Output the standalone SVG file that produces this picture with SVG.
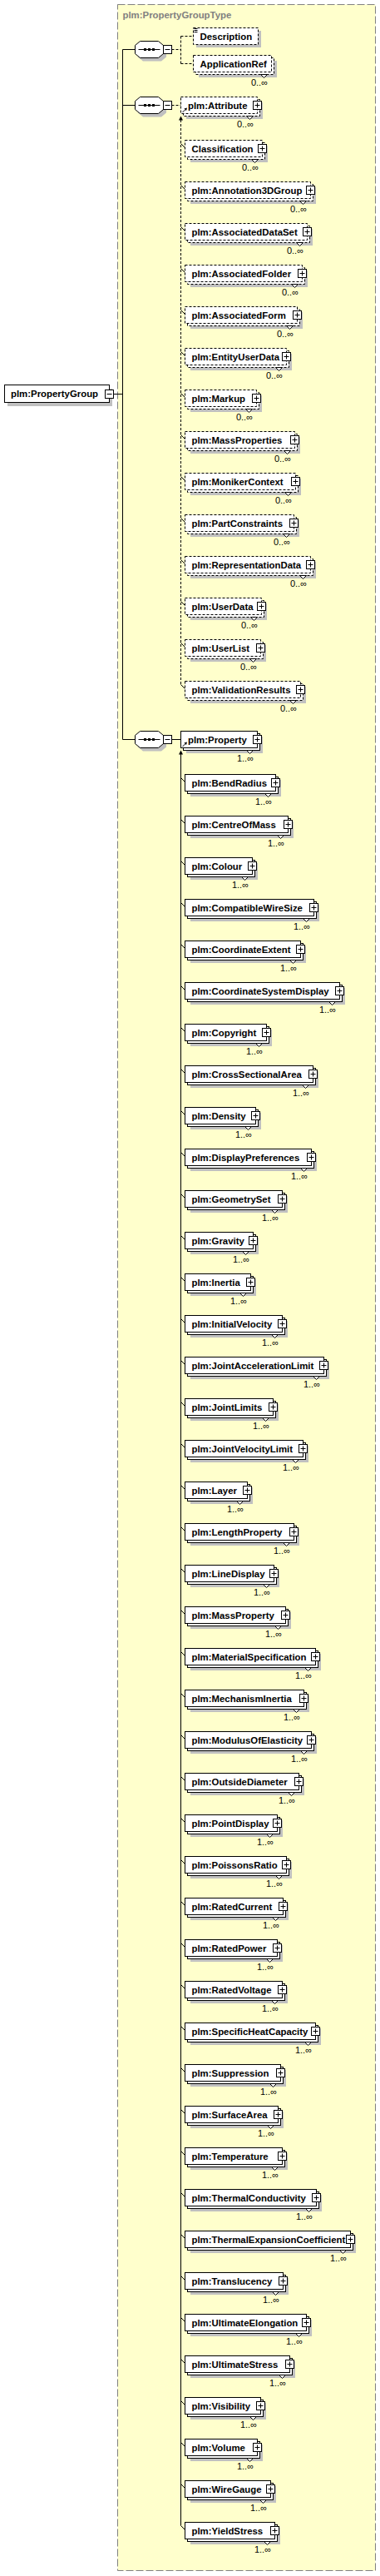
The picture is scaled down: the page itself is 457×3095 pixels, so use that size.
<svg xmlns="http://www.w3.org/2000/svg" xmlns:xlink="http://www.w3.org/1999/xlink" width="457" height="3095" viewBox="0 0 457 3095">
<style>
.s{fill:#c0c0c0}
.b{fill:#fff;stroke:#000;stroke-width:1}
.d{fill:#fff;stroke:#000;stroke-width:1;stroke-dasharray:3,2}
.l{font-family:"Liberation Sans",Arial,sans-serif;font-weight:bold;font-size:11.4px;fill:#000}
.o{font-family:"Liberation Sans",Arial,sans-serif;font-size:11px;fill:#000;text-anchor:end}
.c{fill:none;stroke:#000;stroke-width:1}
.cd{fill:none;stroke:#000;stroke-width:1;stroke-dasharray:3,2}
</style>
<defs>
<polygon id="n" points="-4,0 4,0 0,4" fill="#fff" stroke="#000"/>
<g id="p"><rect x="-5" y="-5" width="10" height="10" fill="#fff" stroke="#000"/><path d="M-3 0H3M0-3V3" stroke="#000"/></g>
<g id="r"><path d="M2 18.5L5.2 15.3" stroke="#000"/><polygon points="7.5,13 3.9,14 6.5,16.6" fill="#000"/></g>
<g id="q"><polygon points="9.5,4 31.5,4 37.5,9 37.5,19 31.5,24 9.5,24 3.5,19 3.5,9" fill="#c0c0c0"/><polygon points="6,0 28,0 34,5 34,15 28,20 6,20 0,15 0,5" fill="#fff" stroke="#000"/><path d="M4 10H30" stroke="#000"/><rect x="10.5" y="8.5" width="3" height="3"/><rect x="15.5" y="8.5" width="3" height="3"/><rect x="20.5" y="8.5" width="3" height="3"/><rect x="34" y="5" width="10" height="10" fill="#fff" stroke="#000"/><path d="M36 10H42" stroke="#000"/></g>
</defs>
<rect x="0" y="0" width="457" height="3095" fill="#fff"/>
<g id="PropertyGroupType">
<rect x="141.5" y="5.5" width="310" height="3083" fill="#FFFFCC" stroke="#808080" stroke-dasharray="9,3"/>
<text class="l" x="147.5" y="22" style="fill:#808080">plm:PropertyGroupType</text>
</g>
<g id="connectors">
<path class="c" d="M136.5 473.5H147.5M147.5 59.5V888.5M147.5 59.5H162.5M147.5 126.5H162.5M147.5 888.5H162.5M206.5 888.5H217.5"/>
<path class="cd" d="M206.5 59.5H217.5M217.5 43.5V76.5M217.5 43.5H232.5M217.5 76.5H232.5M206.5 126.5H217.5"/>
<path class="cd" d="M217.5 144V822.5"/>
<polygon points="217.5,139.5 215,144.5 220,144.5" fill="#000"/>
<path class="c" d="M217.5 906V3034.5"/>
<polygon points="217.5,901.5 215,906.5 220,906.5" fill="#000"/>
<path class="c" d="M217.5 172.5L222.5 177.5M217.5 222.5L222.5 227.5M217.5 272.5L222.5 277.5M217.5 322.5L222.5 327.5M217.5 372.5L222.5 377.5M217.5 422.5L222.5 427.5M217.5 472.5L222.5 477.5M217.5 522.5L222.5 527.5M217.5 572.5L222.5 577.5M217.5 622.5L222.5 627.5M217.5 672.5L222.5 677.5M217.5 722.5L222.5 727.5M217.5 772.5L222.5 777.5M217.5 822.5L222.5 827.5"/>
<path class="c" d="M217.5 934.5l5 5m-5 45l5 5m-5 45l5 5m-5 45l5 5m-5 45l5 5m-5 45l5 5m-5 45l5 5m-5 45l5 5m-5 45l5 5m-5 45l5 5m-5 45l5 5m-5 45l5 5m-5 45l5 5m-5 45l5 5m-5 45l5 5m-5 45l5 5m-5 45l5 5m-5 45l5 5m-5 45l5 5m-5 45l5 5m-5 45l5 5m-5 45l5 5m-5 45l5 5m-5 45l5 5m-5 45l5 5m-5 45l5 5m-5 45l5 5m-5 45l5 5m-5 45l5 5m-5 45l5 5m-5 45l5 5m-5 45l5 5m-5 45l5 5m-5 45l5 5m-5 45l5 5m-5 45l5 5m-5 45l5 5m-5 45l5 5m-5 45l5 5m-5 45l5 5m-5 45l5 5m-5 45l5 5m-5 45l5 5"/>
</g>
<g id="PropertyGroup">
<rect class="s" x="9" y="467" width="126" height="21"/>
<rect class="b" x="5.5" y="462.5" width="126" height="21"/>
<text class="l" x="13" y="477">plm:PropertyGroup</text>
<rect class="b" x="126.5" y="468.5" width="10" height="10"/>
<path d="M128.5 473.5H134.5" stroke="#000"/>
</g>
<g id="seq1"><use href="#q" x="162.5" y="49.5"/></g>
<g id="seq2"><use href="#q" x="162.5" y="116.5"/></g>
<g id="seq3"><use href="#q" x="162.5" y="878.5"/></g>
<g id="Description" transform="translate(232.5,33.5)"><rect class="s" x="3.5" y="3.5" width="78" height="20"/><rect class="d" width="78" height="20"/><path d="M1 1H5M1 3H5M1 5H5" stroke="#000"/><text class="l" x="8" y="14">Description</text></g>
<g id="ApplicationRef" transform="translate(232.5,66.5)"><rect class="s" x="6.5" y="6.5" width="94" height="20"/><rect class="d" x="3" y="3" width="94" height="20"/><rect class="d" width="94" height="20"/><use href="#n" x="85" y="23"/><text class="l" x="8" y="14">ApplicationRef</text><text class="o" x="89.5" y="36.5">0..∞</text></g>
<g id="Attribute" transform="translate(217.5,116.5)"><rect class="s" x="6.5" y="6.5" width="92" height="20"/><rect class="d" x="3" y="3" width="92" height="20"/><rect class="d" width="92" height="20"/><use href="#n" x="83" y="23"/><use href="#p" x="92" y="10"/><use href="#r"/><text class="l" x="8.5" y="14">plm:Attribute</text><text class="o" x="87.5" y="36.5">0..∞</text></g>
<g id="Classification" transform="translate(222.5,168.5)"><rect class="s" x="6.5" y="6.5" width="93" height="20"/><rect class="d" x="3" y="3" width="93" height="20"/><rect class="d" width="93" height="20"/><use href="#n" x="84" y="23"/><use href="#p" x="93" y="10"/><text class="l" x="8" y="14">Classification</text><text class="o" x="88.5" y="36.5">0..∞</text></g>
<g id="Annotation3DGroup" transform="translate(222.5,218.5)"><rect class="s" x="6.5" y="6.5" width="151" height="20"/><rect class="d" x="3" y="3" width="151" height="20"/><rect class="d" width="151" height="20"/><use href="#n" x="142" y="23"/><use href="#p" x="151" y="10"/><text class="l" x="8" y="14">plm:Annotation3DGroup</text><text class="o" x="146.5" y="36.5">0..∞</text></g>
<g id="AssociatedDataSet" transform="translate(222.5,268.5)"><rect class="s" x="6.5" y="6.5" width="147" height="20"/><rect class="d" x="3" y="3" width="147" height="20"/><rect class="d" width="147" height="20"/><use href="#n" x="138" y="23"/><use href="#p" x="147" y="10"/><text class="l" x="8" y="14">plm:AssociatedDataSet</text><text class="o" x="142.5" y="36.5">0..∞</text></g>
<g id="AssociatedFolder" transform="translate(222.5,318.5)"><rect class="s" x="6.5" y="6.5" width="141" height="20"/><rect class="d" x="3" y="3" width="141" height="20"/><rect class="d" width="141" height="20"/><use href="#n" x="132" y="23"/><use href="#p" x="141" y="10"/><text class="l" x="8" y="14">plm:AssociatedFolder</text><text class="o" x="136.5" y="36.5">0..∞</text></g>
<g id="AssociatedForm" transform="translate(222.5,368.5)"><rect class="s" x="6.5" y="6.5" width="135" height="20"/><rect class="d" x="3" y="3" width="135" height="20"/><rect class="d" width="135" height="20"/><use href="#n" x="126" y="23"/><use href="#p" x="135" y="10"/><text class="l" x="8" y="14">plm:AssociatedForm</text><text class="o" x="130.5" y="36.5">0..∞</text></g>
<g id="EntityUserData" transform="translate(222.5,418.5)"><rect class="s" x="6.5" y="6.5" width="122" height="20"/><rect class="d" x="3" y="3" width="122" height="20"/><rect class="d" width="122" height="20"/><use href="#n" x="113" y="23"/><use href="#p" x="122" y="10"/><text class="l" x="8" y="14">plm:EntityUserData</text><text class="o" x="117.5" y="36.5">0..∞</text></g>
<g id="Markup" transform="translate(222.5,468.5)"><rect class="s" x="6.5" y="6.5" width="86" height="20"/><rect class="d" x="3" y="3" width="86" height="20"/><rect class="d" width="86" height="20"/><use href="#n" x="77" y="23"/><use href="#p" x="86" y="10"/><text class="l" x="8" y="14">plm:Markup</text><text class="o" x="81.5" y="36.5">0..∞</text></g>
<g id="MassProperties" transform="translate(222.5,518.5)"><rect class="s" x="6.5" y="6.5" width="132" height="20"/><rect class="d" x="3" y="3" width="132" height="20"/><rect class="d" width="132" height="20"/><use href="#n" x="123" y="23"/><use href="#p" x="132" y="10"/><text class="l" x="8" y="14">plm:MassProperties</text><text class="o" x="127.5" y="36.5">0..∞</text></g>
<g id="MonikerContext" transform="translate(222.5,568.5)"><rect class="s" x="6.5" y="6.5" width="133" height="20"/><rect class="d" x="3" y="3" width="133" height="20"/><rect class="d" width="133" height="20"/><use href="#n" x="124" y="23"/><use href="#p" x="133" y="10"/><text class="l" x="8" y="14">plm:MonikerContext</text><text class="o" x="128.5" y="36.5">0..∞</text></g>
<g id="PartConstraints" transform="translate(222.5,618.5)"><rect class="s" x="6.5" y="6.5" width="131" height="20"/><rect class="d" x="3" y="3" width="131" height="20"/><rect class="d" width="131" height="20"/><use href="#n" x="122" y="23"/><use href="#p" x="131" y="10"/><text class="l" x="8" y="14">plm:PartConstraints</text><text class="o" x="126.5" y="36.5">0..∞</text></g>
<g id="RepresentationData" transform="translate(222.5,668.5)"><rect class="s" x="6.5" y="6.5" width="151" height="20"/><rect class="d" x="3" y="3" width="151" height="20"/><rect class="d" width="151" height="20"/><use href="#n" x="142" y="23"/><use href="#p" x="151" y="10"/><text class="l" x="8" y="14">plm:RepresentationData</text><text class="o" x="146.5" y="36.5">0..∞</text></g>
<g id="UserData" transform="translate(222.5,718.5)"><rect class="s" x="6.5" y="6.5" width="92" height="20"/><rect class="d" x="3" y="3" width="92" height="20"/><rect class="d" width="92" height="20"/><use href="#n" x="83" y="23"/><use href="#p" x="92" y="10"/><text class="l" x="8" y="14">plm:UserData</text><text class="o" x="87.5" y="36.5">0..∞</text></g>
<g id="UserList" transform="translate(222.5,768.5)"><rect class="s" x="6.5" y="6.5" width="91" height="20"/><rect class="d" x="3" y="3" width="91" height="20"/><rect class="d" width="91" height="20"/><use href="#n" x="82" y="23"/><use href="#p" x="91" y="10"/><text class="l" x="8" y="14">plm:UserList</text><text class="o" x="86.5" y="36.5">0..∞</text></g>
<g id="ValidationResults" transform="translate(222.5,818.5)"><rect class="s" x="6.5" y="6.5" width="139" height="20"/><rect class="d" x="3" y="3" width="139" height="20"/><rect class="d" width="139" height="20"/><use href="#n" x="130" y="23"/><use href="#p" x="139" y="10"/><text class="l" x="8" y="14">plm:ValidationResults</text><text class="o" x="134.5" y="36.5">0..∞</text></g>
<g id="Property" transform="translate(217.5,878.5)"><rect class="s" x="6.5" y="6.5" width="92" height="20"/><rect class="b" x="3" y="3" width="92" height="20"/><rect class="b" width="92" height="20"/><use href="#n" x="83" y="23"/><use href="#p" x="92" y="10"/><use href="#r"/><text class="l" x="8.5" y="14">plm:Property</text><text class="o" x="87.5" y="36.5">1..∞</text></g>
<g id="BendRadius" transform="translate(222.5,930.5)"><rect class="s" x="6.5" y="6.5" width="109" height="20"/><rect class="b" x="3" y="3" width="109" height="20"/><rect class="b" width="109" height="20"/><use href="#n" x="100" y="23"/><use href="#p" x="109" y="10"/><text class="l" x="8" y="14">plm:BendRadius</text><text class="o" x="104.5" y="36.5">1..∞</text></g>
<g id="CentreOfMass" transform="translate(222.5,980.5)"><rect class="s" x="6.5" y="6.5" width="124" height="20"/><rect class="b" x="3" y="3" width="124" height="20"/><rect class="b" width="124" height="20"/><use href="#n" x="115" y="23"/><use href="#p" x="124" y="10"/><text class="l" x="8" y="14">plm:CentreOfMass</text><text class="o" x="119.5" y="36.5">1..∞</text></g>
<g id="Colour" transform="translate(222.5,1030.5)"><rect class="s" x="6.5" y="6.5" width="81" height="20"/><rect class="b" x="3" y="3" width="81" height="20"/><rect class="b" width="81" height="20"/><use href="#n" x="72" y="23"/><use href="#p" x="81" y="10"/><text class="l" x="8" y="14">plm:Colour</text><text class="o" x="76.5" y="36.5">1..∞</text></g>
<g id="CompatibleWireSize" transform="translate(222.5,1080.5)"><rect class="s" x="6.5" y="6.5" width="155" height="20"/><rect class="b" x="3" y="3" width="155" height="20"/><rect class="b" width="155" height="20"/><use href="#n" x="146" y="23"/><use href="#p" x="155" y="10"/><text class="l" x="8" y="14">plm:CompatibleWireSize</text><text class="o" x="150.5" y="36.5">1..∞</text></g>
<g id="CoordinateExtent" transform="translate(222.5,1130.5)"><rect class="s" x="6.5" y="6.5" width="139" height="20"/><rect class="b" x="3" y="3" width="139" height="20"/><rect class="b" width="139" height="20"/><use href="#n" x="130" y="23"/><use href="#p" x="139" y="10"/><text class="l" x="8" y="14">plm:CoordinateExtent</text><text class="o" x="134.5" y="36.5">1..∞</text></g>
<g id="CoordinateSystemDisplay" transform="translate(222.5,1180.5)"><rect class="s" x="6.5" y="6.5" width="186" height="20"/><rect class="b" x="3" y="3" width="186" height="20"/><rect class="b" width="186" height="20"/><use href="#n" x="177" y="23"/><use href="#p" x="186" y="10"/><text class="l" x="8" y="14">plm:CoordinateSystemDisplay</text><text class="o" x="181.5" y="36.5">1..∞</text></g>
<g id="Copyright" transform="translate(222.5,1230.5)"><rect class="s" x="6.5" y="6.5" width="98" height="20"/><rect class="b" x="3" y="3" width="98" height="20"/><rect class="b" width="98" height="20"/><use href="#n" x="89" y="23"/><use href="#p" x="98" y="10"/><text class="l" x="8" y="14">plm:Copyright</text><text class="o" x="93.5" y="36.5">1..∞</text></g>
<g id="CrossSectionalArea" transform="translate(222.5,1280.5)"><rect class="s" x="6.5" y="6.5" width="154" height="20"/><rect class="b" x="3" y="3" width="154" height="20"/><rect class="b" width="154" height="20"/><use href="#n" x="145" y="23"/><use href="#p" x="154" y="10"/><text class="l" x="8" y="14">plm:CrossSectionalArea</text><text class="o" x="149.5" y="36.5">1..∞</text></g>
<g id="Density" transform="translate(222.5,1330.5)"><rect class="s" x="6.5" y="6.5" width="85" height="20"/><rect class="b" x="3" y="3" width="85" height="20"/><rect class="b" width="85" height="20"/><use href="#n" x="76" y="23"/><use href="#p" x="85" y="10"/><text class="l" x="8" y="14">plm:Density</text><text class="o" x="80.5" y="36.5">1..∞</text></g>
<g id="DisplayPreferences" transform="translate(222.5,1380.5)"><rect class="s" x="6.5" y="6.5" width="152" height="20"/><rect class="b" x="3" y="3" width="152" height="20"/><rect class="b" width="152" height="20"/><use href="#n" x="143" y="23"/><use href="#p" x="152" y="10"/><text class="l" x="8" y="14">plm:DisplayPreferences</text><text class="o" x="147.5" y="36.5">1..∞</text></g>
<g id="GeometrySet" transform="translate(222.5,1430.5)"><rect class="s" x="6.5" y="6.5" width="117" height="20"/><rect class="b" x="3" y="3" width="117" height="20"/><rect class="b" width="117" height="20"/><use href="#n" x="108" y="23"/><use href="#p" x="117" y="10"/><text class="l" x="8" y="14">plm:GeometrySet</text><text class="o" x="112.5" y="36.5">1..∞</text></g>
<g id="Gravity" transform="translate(222.5,1480.5)"><rect class="s" x="6.5" y="6.5" width="82" height="20"/><rect class="b" x="3" y="3" width="82" height="20"/><rect class="b" width="82" height="20"/><use href="#n" x="73" y="23"/><use href="#p" x="82" y="10"/><text class="l" x="8" y="14">plm:Gravity</text><text class="o" x="77.5" y="36.5">1..∞</text></g>
<g id="Inertia" transform="translate(222.5,1530.5)"><rect class="s" x="6.5" y="6.5" width="79" height="20"/><rect class="b" x="3" y="3" width="79" height="20"/><rect class="b" width="79" height="20"/><use href="#n" x="70" y="23"/><use href="#p" x="79" y="10"/><text class="l" x="8" y="14">plm:Inertia</text><text class="o" x="74.5" y="36.5">1..∞</text></g>
<g id="InitialVelocity" transform="translate(222.5,1580.5)"><rect class="s" x="6.5" y="6.5" width="117" height="20"/><rect class="b" x="3" y="3" width="117" height="20"/><rect class="b" width="117" height="20"/><use href="#n" x="108" y="23"/><use href="#p" x="117" y="10"/><text class="l" x="8" y="14">plm:InitialVelocity</text><text class="o" x="112.5" y="36.5">1..∞</text></g>
<g id="JointAccelerationLimit" transform="translate(222.5,1630.5)"><rect class="s" x="6.5" y="6.5" width="167" height="20"/><rect class="b" x="3" y="3" width="167" height="20"/><rect class="b" width="167" height="20"/><use href="#n" x="158" y="23"/><use href="#p" x="167" y="10"/><text class="l" x="8" y="14">plm:JointAccelerationLimit</text><text class="o" x="162.5" y="36.5">1..∞</text></g>
<g id="JointLimits" transform="translate(222.5,1680.5)"><rect class="s" x="6.5" y="6.5" width="106" height="20"/><rect class="b" x="3" y="3" width="106" height="20"/><rect class="b" width="106" height="20"/><use href="#n" x="97" y="23"/><use href="#p" x="106" y="10"/><text class="l" x="8" y="14">plm:JointLimits</text><text class="o" x="101.5" y="36.5">1..∞</text></g>
<g id="JointVelocityLimit" transform="translate(222.5,1730.5)"><rect class="s" x="6.5" y="6.5" width="142" height="20"/><rect class="b" x="3" y="3" width="142" height="20"/><rect class="b" width="142" height="20"/><use href="#n" x="133" y="23"/><use href="#p" x="142" y="10"/><text class="l" x="8" y="14">plm:JointVelocityLimit</text><text class="o" x="137.5" y="36.5">1..∞</text></g>
<g id="Layer" transform="translate(222.5,1780.5)"><rect class="s" x="6.5" y="6.5" width="75" height="20"/><rect class="b" x="3" y="3" width="75" height="20"/><rect class="b" width="75" height="20"/><use href="#n" x="66" y="23"/><use href="#p" x="75" y="10"/><text class="l" x="8" y="14">plm:Layer</text><text class="o" x="70.5" y="36.5">1..∞</text></g>
<g id="LengthProperty" transform="translate(222.5,1830.5)"><rect class="s" x="6.5" y="6.5" width="131" height="20"/><rect class="b" x="3" y="3" width="131" height="20"/><rect class="b" width="131" height="20"/><use href="#n" x="122" y="23"/><use href="#p" x="131" y="10"/><text class="l" x="8" y="14">plm:LengthProperty</text><text class="o" x="126.5" y="36.5">1..∞</text></g>
<g id="LineDisplay" transform="translate(222.5,1880.5)"><rect class="s" x="6.5" y="6.5" width="107" height="20"/><rect class="b" x="3" y="3" width="107" height="20"/><rect class="b" width="107" height="20"/><use href="#n" x="98" y="23"/><use href="#p" x="107" y="10"/><text class="l" x="8" y="14">plm:LineDisplay</text><text class="o" x="102.5" y="36.5">1..∞</text></g>
<g id="MassProperty" transform="translate(222.5,1930.5)"><rect class="s" x="6.5" y="6.5" width="121" height="20"/><rect class="b" x="3" y="3" width="121" height="20"/><rect class="b" width="121" height="20"/><use href="#n" x="112" y="23"/><use href="#p" x="121" y="10"/><text class="l" x="8" y="14">plm:MassProperty</text><text class="o" x="116.5" y="36.5">1..∞</text></g>
<g id="MaterialSpecification" transform="translate(222.5,1980.5)"><rect class="s" x="6.5" y="6.5" width="157" height="20"/><rect class="b" x="3" y="3" width="157" height="20"/><rect class="b" width="157" height="20"/><use href="#n" x="148" y="23"/><use href="#p" x="157" y="10"/><text class="l" x="8" y="14">plm:MaterialSpecification</text><text class="o" x="152.5" y="36.5">1..∞</text></g>
<g id="MechanismInertia" transform="translate(222.5,2030.5)"><rect class="s" x="6.5" y="6.5" width="143" height="20"/><rect class="b" x="3" y="3" width="143" height="20"/><rect class="b" width="143" height="20"/><use href="#n" x="134" y="23"/><use href="#p" x="143" y="10"/><text class="l" x="8" y="14">plm:MechanismInertia</text><text class="o" x="138.5" y="36.5">1..∞</text></g>
<g id="ModulusOfElasticity" transform="translate(222.5,2080.5)"><rect class="s" x="6.5" y="6.5" width="152" height="20"/><rect class="b" x="3" y="3" width="152" height="20"/><rect class="b" width="152" height="20"/><use href="#n" x="143" y="23"/><use href="#p" x="152" y="10"/><text class="l" x="8" y="14">plm:ModulusOfElasticity</text><text class="o" x="147.5" y="36.5">1..∞</text></g>
<g id="OutsideDiameter" transform="translate(222.5,2130.5)"><rect class="s" x="6.5" y="6.5" width="137" height="20"/><rect class="b" x="3" y="3" width="137" height="20"/><rect class="b" width="137" height="20"/><use href="#n" x="128" y="23"/><use href="#p" x="137" y="10"/><text class="l" x="8" y="14">plm:OutsideDiameter</text><text class="o" x="132.5" y="36.5">1..∞</text></g>
<g id="PointDisplay" transform="translate(222.5,2180.5)"><rect class="s" x="6.5" y="6.5" width="111" height="20"/><rect class="b" x="3" y="3" width="111" height="20"/><rect class="b" width="111" height="20"/><use href="#n" x="102" y="23"/><use href="#p" x="111" y="10"/><text class="l" x="8" y="14">plm:PointDisplay</text><text class="o" x="106.5" y="36.5">1..∞</text></g>
<g id="PoissonsRatio" transform="translate(222.5,2230.5)"><rect class="s" x="6.5" y="6.5" width="122" height="20"/><rect class="b" x="3" y="3" width="122" height="20"/><rect class="b" width="122" height="20"/><use href="#n" x="113" y="23"/><use href="#p" x="122" y="10"/><text class="l" x="8" y="14">plm:PoissonsRatio</text><text class="o" x="117.5" y="36.5">1..∞</text></g>
<g id="RatedCurrent" transform="translate(222.5,2280.5)"><rect class="s" x="6.5" y="6.5" width="118" height="20"/><rect class="b" x="3" y="3" width="118" height="20"/><rect class="b" width="118" height="20"/><use href="#n" x="109" y="23"/><use href="#p" x="118" y="10"/><text class="l" x="8" y="14">plm:RatedCurrent</text><text class="o" x="113.5" y="36.5">1..∞</text></g>
<g id="RatedPower" transform="translate(222.5,2330.5)"><rect class="s" x="6.5" y="6.5" width="111" height="20"/><rect class="b" x="3" y="3" width="111" height="20"/><rect class="b" width="111" height="20"/><use href="#n" x="102" y="23"/><use href="#p" x="111" y="10"/><text class="l" x="8" y="14">plm:RatedPower</text><text class="o" x="106.5" y="36.5">1..∞</text></g>
<g id="RatedVoltage" transform="translate(222.5,2380.5)"><rect class="s" x="6.5" y="6.5" width="117" height="20"/><rect class="b" x="3" y="3" width="117" height="20"/><rect class="b" width="117" height="20"/><use href="#n" x="108" y="23"/><use href="#p" x="117" y="10"/><text class="l" x="8" y="14">plm:RatedVoltage</text><text class="o" x="112.5" y="36.5">1..∞</text></g>
<g id="SpecificHeatCapacity" transform="translate(222.5,2430.5)"><rect class="s" x="6.5" y="6.5" width="157" height="20"/><rect class="b" x="3" y="3" width="157" height="20"/><rect class="b" width="157" height="20"/><use href="#n" x="148" y="23"/><use href="#p" x="157" y="10"/><text class="l" x="8" y="14">plm:SpecificHeatCapacity</text><text class="o" x="152.5" y="36.5">1..∞</text></g>
<g id="Suppression" transform="translate(222.5,2480.5)"><rect class="s" x="6.5" y="6.5" width="115" height="20"/><rect class="b" x="3" y="3" width="115" height="20"/><rect class="b" width="115" height="20"/><use href="#n" x="106" y="23"/><use href="#p" x="115" y="10"/><text class="l" x="8" y="14">plm:Suppression</text><text class="o" x="110.5" y="36.5">1..∞</text></g>
<g id="SurfaceArea" transform="translate(222.5,2530.5)"><rect class="s" x="6.5" y="6.5" width="112" height="20"/><rect class="b" x="3" y="3" width="112" height="20"/><rect class="b" width="112" height="20"/><use href="#n" x="103" y="23"/><use href="#p" x="112" y="10"/><text class="l" x="8" y="14">plm:SurfaceArea</text><text class="o" x="107.5" y="36.5">1..∞</text></g>
<g id="Temperature" transform="translate(222.5,2580.5)"><rect class="s" x="6.5" y="6.5" width="117" height="20"/><rect class="b" x="3" y="3" width="117" height="20"/><rect class="b" width="117" height="20"/><use href="#n" x="108" y="23"/><use href="#p" x="117" y="10"/><text class="l" x="8" y="14">plm:Temperature</text><text class="o" x="112.5" y="36.5">1..∞</text></g>
<g id="ThermalConductivity" transform="translate(222.5,2630.5)"><rect class="s" x="6.5" y="6.5" width="158" height="20"/><rect class="b" x="3" y="3" width="158" height="20"/><rect class="b" width="158" height="20"/><use href="#n" x="149" y="23"/><use href="#p" x="158" y="10"/><text class="l" x="8" y="14">plm:ThermalConductivity</text><text class="o" x="153.5" y="36.5">1..∞</text></g>
<g id="ThermalExpansionCoefficient" transform="translate(222.5,2680.5)"><rect class="s" x="6.5" y="6.5" width="199" height="20"/><rect class="b" x="3" y="3" width="199" height="20"/><rect class="b" width="199" height="20"/><use href="#n" x="190" y="23"/><text class="l" x="8" y="14">plm:ThermalExpansionCoefficient</text><use href="#p" x="199" y="10"/><text class="o" x="194.5" y="36.5">1..∞</text></g>
<g id="Translucency" transform="translate(222.5,2730.5)"><rect class="s" x="6.5" y="6.5" width="118" height="20"/><rect class="b" x="3" y="3" width="118" height="20"/><rect class="b" width="118" height="20"/><use href="#n" x="109" y="23"/><use href="#p" x="118" y="10"/><text class="l" x="8" y="14">plm:Translucency</text><text class="o" x="113.5" y="36.5">1..∞</text></g>
<g id="UltimateElongation" transform="translate(222.5,2780.5)"><rect class="s" x="6.5" y="6.5" width="146" height="20"/><rect class="b" x="3" y="3" width="146" height="20"/><rect class="b" width="146" height="20"/><use href="#n" x="137" y="23"/><use href="#p" x="146" y="10"/><text class="l" x="8" y="14">plm:UltimateElongation</text><text class="o" x="141.5" y="36.5">1..∞</text></g>
<g id="UltimateStress" transform="translate(222.5,2830.5)"><rect class="s" x="6.5" y="6.5" width="126" height="20"/><rect class="b" x="3" y="3" width="126" height="20"/><rect class="b" width="126" height="20"/><use href="#n" x="117" y="23"/><use href="#p" x="126" y="10"/><text class="l" x="8" y="14">plm:UltimateStress</text><text class="o" x="121.5" y="36.5">1..∞</text></g>
<g id="Visibility" transform="translate(222.5,2880.5)"><rect class="s" x="6.5" y="6.5" width="91" height="20"/><rect class="b" x="3" y="3" width="91" height="20"/><rect class="b" width="91" height="20"/><use href="#n" x="82" y="23"/><use href="#p" x="91" y="10"/><text class="l" x="8" y="14">plm:Visibility</text><text class="o" x="86.5" y="36.5">1..∞</text></g>
<g id="Volume" transform="translate(222.5,2930.5)"><rect class="s" x="6.5" y="6.5" width="87" height="20"/><rect class="b" x="3" y="3" width="87" height="20"/><rect class="b" width="87" height="20"/><use href="#n" x="78" y="23"/><use href="#p" x="87" y="10"/><text class="l" x="8" y="14">plm:Volume</text><text class="o" x="82.5" y="36.5">1..∞</text></g>
<g id="WireGauge" transform="translate(222.5,2980.5)"><rect class="s" x="6.5" y="6.5" width="103" height="20"/><rect class="b" x="3" y="3" width="103" height="20"/><rect class="b" width="103" height="20"/><use href="#n" x="94" y="23"/><use href="#p" x="103" y="10"/><text class="l" x="8" y="14">plm:WireGauge</text><text class="o" x="98.5" y="36.5">1..∞</text></g>
<g id="YieldStress" transform="translate(222.5,3030.5)"><rect class="s" x="6.5" y="6.5" width="108" height="20"/><rect class="b" x="3" y="3" width="108" height="20"/><rect class="b" width="108" height="20"/><use href="#n" x="99" y="23"/><use href="#p" x="108" y="10"/><text class="l" x="8" y="14">plm:YieldStress</text><text class="o" x="103.5" y="36.5">1..∞</text></g>
</svg>
